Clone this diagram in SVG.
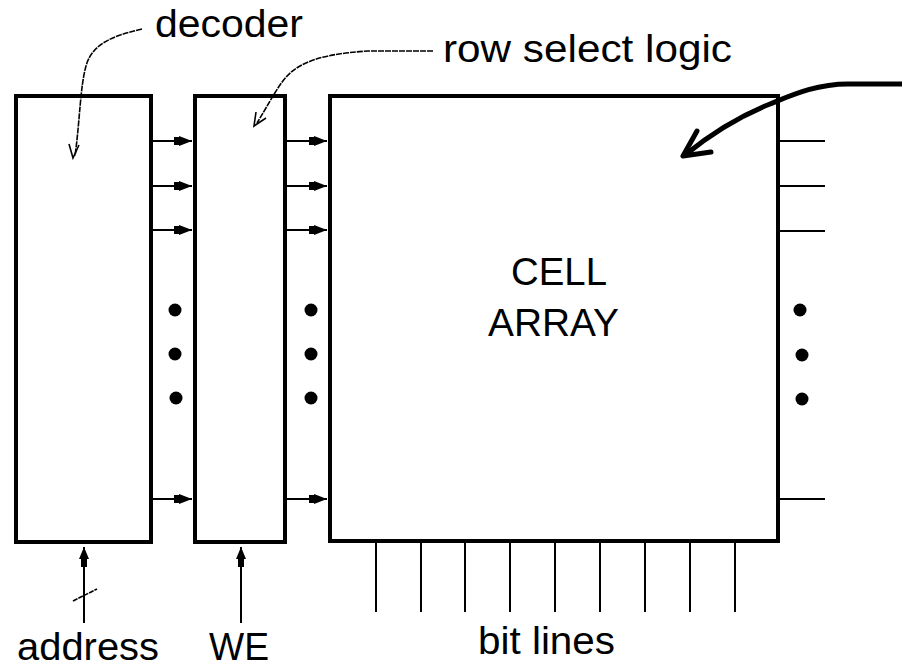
<svg xmlns="http://www.w3.org/2000/svg" width="902" height="668" viewBox="0 0 902 668">
<defs>
<style>
.box{fill:#fff;stroke:#000;stroke-width:4}
.w{stroke:#000;stroke-width:2;fill:none}
.lead{stroke:#000;stroke-width:1.6;fill:none}
.t{font-family:"Liberation Sans",Arial,sans-serif;font-size:38px;fill:#000}
.dot{fill:#000}
</style>
<marker id="ah" viewBox="0 0 18 10" refX="18" refY="5" markerWidth="18" markerHeight="10" markerUnits="userSpaceOnUse" orient="auto">
<path d="M0,1 L5,1 L5,0 L18,5 L5,10 L5,9 L0,9 Z" fill="#000"/>
</marker>
<marker id="ahv" viewBox="0 0 12 20" refX="6" refY="0" markerWidth="12" markerHeight="20" markerUnits="userSpaceOnUse" orient="0">
<path d="M6,0 L11,12 L9,12 L9,20 L3,20 L3,12 L1,12 Z" fill="#000"/>
</marker>
</defs>
<rect width="902" height="668" fill="#fff"/>
<g id="decoder">
<rect class="box" x="16" y="96" width="135" height="446"/>
</g>
<g id="row-select">
<rect class="box" x="195" y="96" width="90" height="446"/>
</g>
<g id="cell-array">
<rect class="box" x="330" y="96" width="448" height="445"/>
<text class="t" x="511" y="285" textLength="96" lengthAdjust="spacingAndGlyphs" font-size="41">CELL</text>
<text class="t" x="488" y="336" textLength="131" lengthAdjust="spacingAndGlyphs" font-size="41">ARRAY</text>
</g>
<g id="labels">
<text class="t" x="155" y="37" textLength="148" lengthAdjust="spacingAndGlyphs">decoder</text>
<text class="t" x="443" y="62" textLength="289" lengthAdjust="spacingAndGlyphs">row select logic</text>
<text class="t" x="17" y="660" textLength="142" lengthAdjust="spacingAndGlyphs" font-size="36">address</text>
<text class="t" x="209" y="660" textLength="60" lengthAdjust="spacingAndGlyphs" font-size="36">WE</text>
<text class="t" x="478" y="654" textLength="137" lengthAdjust="spacingAndGlyphs" font-size="40">bit lines</text>
</g>
<g id="connectors">
<path class="w" marker-end="url(#ah)" d="M151,141 H192"/>
<path class="w" marker-end="url(#ah)" d="M151,186 H192"/>
<path class="w" marker-end="url(#ah)" d="M151,230 H192"/>
<path class="w" marker-end="url(#ah)" d="M151,499 H192"/>
<path class="w" marker-end="url(#ah)" d="M285,141 H327"/>
<path class="w" marker-end="url(#ah)" d="M285,186 H327"/>
<path class="w" marker-end="url(#ah)" d="M285,230 H327"/>
<path class="w" marker-end="url(#ah)" d="M285,499 H327"/>
<path class="w" d="M778,141 H825 M778,186 H825 M778,231 H825 M778,499 H825"/>
<path class="w" d="M376,543 V612 M421,543 V612 M465,543 V612 M510,543 V612 M555,543 V612 M600,543 V612 M645,543 V612 M690,543 V612 M735,543 V612"/>
<path class="w" marker-start="url(#ahv)" d="M84,547 V623"/>
<path class="w" marker-start="url(#ahv)" d="M241,547 V623"/>
<path class="lead" stroke-dasharray="5,1" d="M73,601 L97,589"/>
<path class="lead" stroke-dasharray="6,1" d="M142,29 C112,36 92,44 86,66 C80,88 80,120 75,156"/>
<path class="lead" d="M69,144 L73,158 L79,145"/>
<path class="lead" stroke-dasharray="6,1" d="M433,51 H368 C340,53 318,56 300,66 C282,76 276,92 257,123"/>
<path class="lead" d="M256,112 L254,126 L266,118"/>
<path d="M902,84 H848 C815,84 790,96 770,104 C740,116 712,133 685,155" fill="none" stroke="#000" stroke-width="5" stroke-linecap="round"/>
<path d="M697,131 L683,156 L711,152" fill="none" stroke="#000" stroke-width="5" stroke-linecap="round" stroke-linejoin="round"/>
</g>
<g id="dots">
<circle class="dot" cx="175" cy="310" r="6.5"/>
<circle class="dot" cx="175" cy="354" r="6.5"/>
<circle class="dot" cx="176" cy="398" r="6.5"/>
<circle class="dot" cx="311" cy="310" r="6.5"/>
<circle class="dot" cx="311" cy="354" r="6.5"/>
<circle class="dot" cx="311" cy="398" r="6.5"/>
<circle class="dot" cx="800" cy="310" r="6.5"/>
<circle class="dot" cx="802" cy="355" r="6.5"/>
<circle class="dot" cx="802" cy="399" r="6.5"/>
</g>
</svg>
